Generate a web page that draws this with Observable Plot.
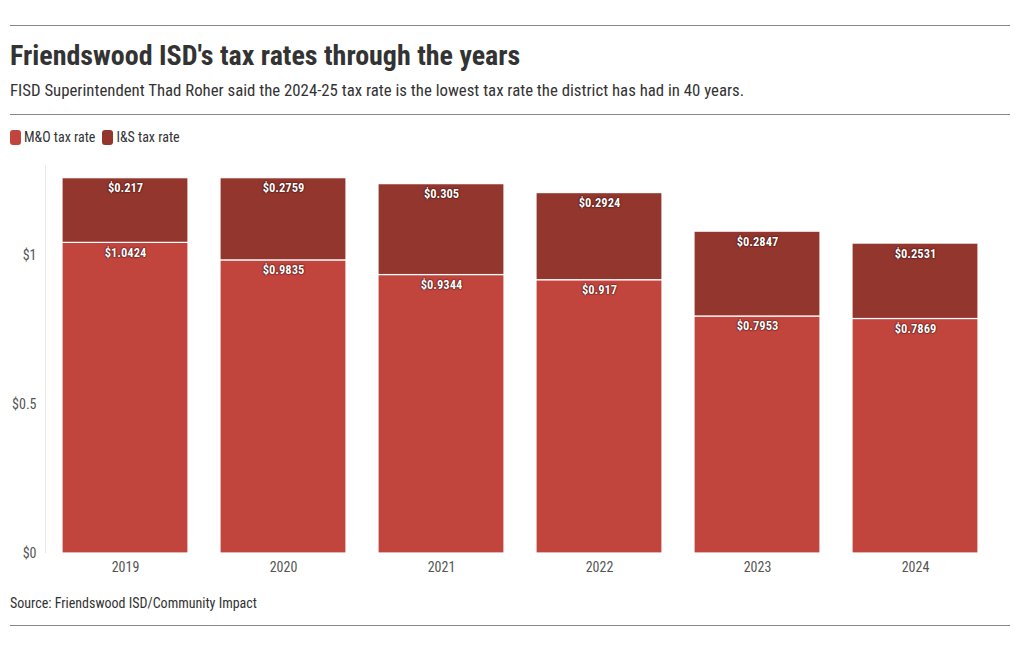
<!DOCTYPE html>
<html><head><meta charset="utf-8">
<script src="https://cdn.jsdelivr.net/npm/d3@7"></script>
<script src="https://cdn.jsdelivr.net/npm/@observablehq/plot@0.6"></script>
<style>
html,body{margin:0;padding:0;background:#fff;}
body{width:1020px;height:650px;position:relative;font-family:"Roboto Condensed","Liberation Sans Narrow","DejaVu Sans Condensed",Roboto,sans-serif;color:#333;}
.rule{position:absolute;left:10px;width:1000px;height:1px;background:#888;}
#title{position:absolute;left:10px;top:39px;font-size:28px;font-weight:bold;color:#333;white-space:nowrap;}
#sub{position:absolute;left:10px;top:80px;font-size:16.8px;color:#333;white-space:nowrap;}
#legend{position:absolute;left:10px;top:129px;font-size:14px;color:#333;display:flex;align-items:center;}
#legend span.sw{display:inline-block;width:11px;height:15px;border-radius:3px;margin-right:3px;}
#legend span.lab{margin-right:7px;}
#chart{position:absolute;left:0;top:153px;}
#source{position:absolute;left:10px;top:595px;font-size:14px;color:#333;white-space:nowrap;}
.lbl text{text-shadow:0 0 2px #300, 0 0 1px #300;}
</style></head>
<body>
<div class="rule" style="top:25px"></div>
<div id="title">Friendswood ISD's tax rates through the years</div>
<div id="sub">FISD Superintendent Thad Roher said the 2024-25 tax rate is the lowest tax rate the district has had in 40 years.</div>
<div class="rule" style="top:114px"></div>
<div id="legend"></div>
<div id="chart"></div>
<div id="source">Source: Friendswood ISD/Community Impact</div>
<div class="rule" style="top:625px"></div>
<script>
const years = ["2019","2020","2021","2022","2023","2024"];
const seriesNames = ["M&O tax rate","I&S tax rate"];
const seriesColors = ["#c1453d","#93362d"];
const mo = [1.0424, 0.9835, 0.9344, 0.917, 0.7953, 0.7869];
const is = [0.217, 0.2759, 0.305, 0.2924, 0.2847, 0.2531];
const moLabels = ["$1.0424","$0.9835","$0.9344","$0.917","$0.7953","$0.7869"];
const isLabels = ["$0.217","$0.2759","$0.305","$0.2924","$0.2847","$0.2531"];
const yTicks = [0, 0.5, 1];
const yTickLabels = ["$0","$0.5","$1"];

const data = [];
years.forEach((y,i)=>data.push({year:y, series:seriesNames[0], value:mo[i], label:moLabels[i]}));
years.forEach((y,i)=>data.push({year:y, series:seriesNames[1], value:is[i], label:isLabels[i]}));

const leg = document.getElementById("legend");
seriesNames.forEach((s,i)=>{
  const sw=document.createElement("span");sw.className="sw";sw.style.background=seriesColors[i];
  const lb=document.createElement("span");lb.className="lab";lb.textContent=s;
  leg.appendChild(sw);leg.appendChild(lb);
});

const plot = Plot.plot({
  width: 1020,
  height: 430,
  marginTop: 12,
  marginBottom: 30,
  marginLeft: 46,
  marginRight: 26,
  style: {fontFamily: getComputedStyle(document.body).fontFamily, fontSize: "14px", color: "#555", background: "white"},
  x: {domain: years, paddingInner: 0.2, paddingOuter: 0.1, label: null, tickSize: 0, tickPadding: 9},
  y: {domain: [0, 1.302], ticks: yTicks, tickFormat: (d,i)=>yTickLabels[yTicks.indexOf(d)], label: null, tickSize: 0, tickPadding: 10},
  color: {domain: seriesNames, range: seriesColors},
  marks: [
    Plot.gridY(yTicks, {stroke: "#e8e8e8", strokeOpacity: 1, x1: 38, x2: 994}),
    Plot.barY(data, {x: "year", y: "value", fill: "series", stroke: "white", strokeWidth: 1.2, order: seriesNames}),
    Plot.text(data, Plot.stackY2({x: "year", y: "value", z: "series", text: "label", order: seriesNames, dy: 10, fill: "white", fontWeight: "bold", fontSize: 12.5, className: "lbl"}))
  ]
});
document.getElementById("chart").appendChild(plot);
const svg = d3.select(plot);
svg.insert("line", ":first-child").attr("x1",45.5).attr("x2",45.5).attr("y1",12).attr("y2",400).attr("stroke","#e8e8e8");
</script>
</body></html>
